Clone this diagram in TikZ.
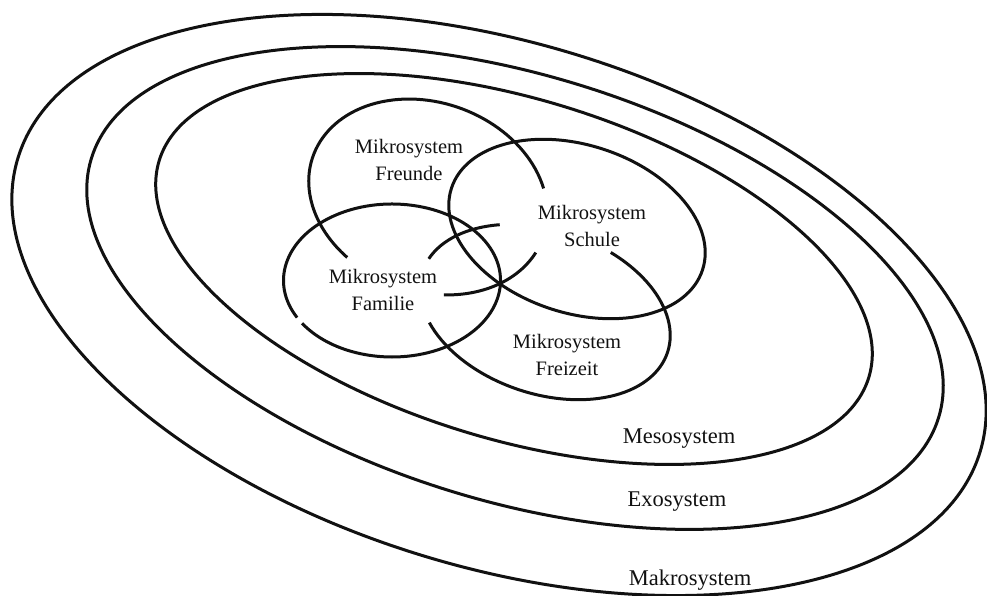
\documentclass[tikz,border=0pt]{standalone}
\usepackage{fontspec}
\setmainfont{Liberation Serif}
\definecolor{Ink}{HTML}{111111}

\tikzset{
  ring/.style={draw=Ink, line width=3pt},
  sysname/.style={font=\fontsize{22.5}{27}\selectfont, text=Ink, inner sep=0pt},
  microname/.style={font=\fontsize{20.5}{26.5}\selectfont, text=Ink, align=center, inner sep=0pt},
}

\begin{document}
\begin{tikzpicture}[x=1pt, y=1pt]
  \useasboundingbox (0,0) rectangle (987,596);

  % nested systems
  \coordinate (makro) at (499,291);
  \coordinate (exo) at (515,308);
  \coordinate (meso) at (514,327);
  \draw[ring, shift={(makro)}, rotate=-17] (0,0) ellipse [x radius=503pt, y radius=262pt];
  \draw[ring, shift={(exo)}, rotate=-17] (0,0) ellipse [x radius=443pt, y radius=213pt];
  \draw[ring, shift={(meso)}, rotate=-17] (0,0) ellipse [x radius=371pt, y radius=170pt];

  % micro systems, drawn as broken arcs
  \coordinate (freunde) at (428,399);
  \coordinate (schule) at (577,367);
  \coordinate (familie) at (392,315.5);
  \coordinate (freizeit) at (545,284);

  \draw[ring, shift={(schule)}, rotate=-18] (0,0) ellipse [x radius=132pt, y radius=84pt];
  \draw[ring, shift={(familie)}] (214:108.5pt and 76.5pt)
    arc [start angle=214, end angle=569, x radius=108.5pt, y radius=76.5pt];
  \draw[ring, shift={(freunde)}, rotate=-19.5] (29.6:122pt and 94.5pt)
    arc [start angle=29.6, end angle=242.7, x radius=122pt, y radius=94.5pt];
  \draw[ring, shift={(freunde)}, rotate=-19.5] (293:122pt and 94.5pt)
    arc [start angle=293, end angle=350, x radius=122pt, y radius=94.5pt];
  \draw[ring, shift={(freizeit)}, rotate=-18.2] (214.3:129pt and 82pt)
    arc [start angle=214.3, end angle=430.1, x radius=129pt, y radius=82pt];
  \draw[ring, shift={(freizeit)}, rotate=-18.2] (123:129pt and 82pt)
    arc [start angle=123, end angle=170, x radius=129pt, y radius=82pt];

  % labels
  \node[microname] (lblFreunde) at (409,436) {Mikrosystem\\Freunde};
  \node[microname] (lblSchule) at (592,370) {Mikrosystem\\Schule};
  \node[microname] (lblFamilie) at (383,306) {Mikrosystem\\Familie};
  \node[microname] (lblFreizeit) at (567,241) {Mikrosystem\\Freizeit};
  \node[sysname] (lblMeso) at (679,157) {Mesosystem};
  \node[sysname] (lblExo) at (677,94) {Exosystem};
  \node[sysname] (lblMakro) at (690,16) {Makrosystem};
\end{tikzpicture}
\end{document}
